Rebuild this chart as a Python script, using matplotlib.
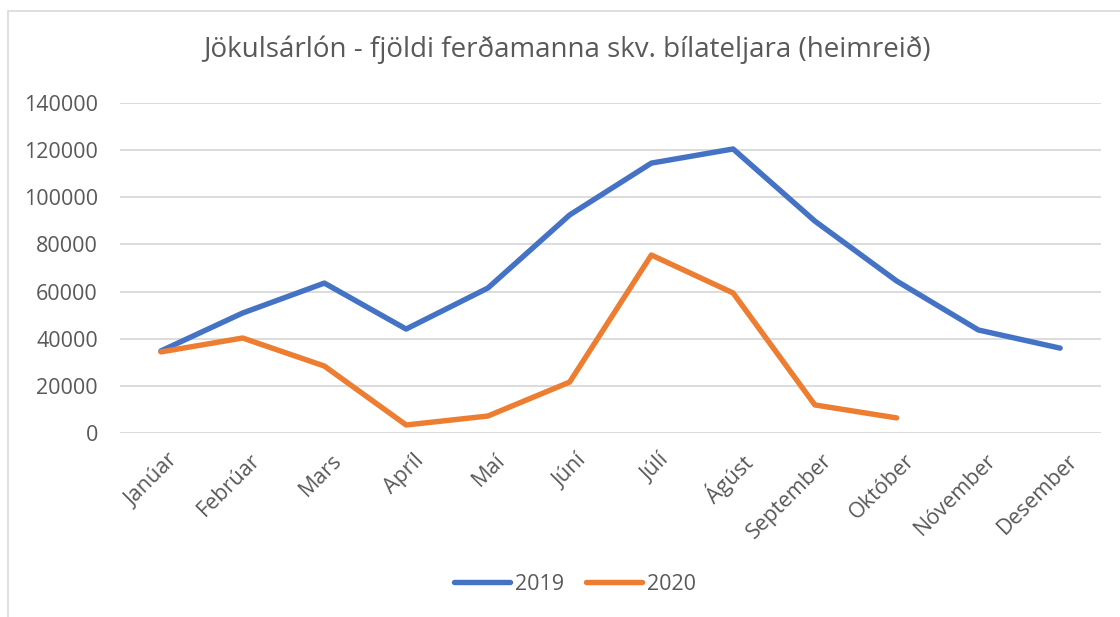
import matplotlib
matplotlib.use("Agg")
from matplotlib import pyplot as plt
from matplotlib.patches import Rectangle
from matplotlib.transforms import ScaledTranslation

# months and visitor counts
months = ["Janúar", "Febrúar", "Mars", "Apríl", "Maí", "Júní", "Júlí",
          "Ágúst", "September", "Október", "Nóvember", "Desember"]
visitors_2019 = [34800, 50900, 63600, 44100, 61500, 92500, 114500,
                 120500, 89900, 64500, 43700, 36000]
visitors_2020 = [34400, 40300, 28400, 3400, 7200, 21600, 75500,
                 59400, 11900, 6400]
yticks = [0, 20000, 40000, 60000, 80000, 100000, 120000, 140000]

plt.rcParams['font.family'] = ['Open Sans', 'DejaVu Sans']
grey = '#595959'

fig = plt.figure(figsize=(11.2, 6.17), dpi=100)
ax = fig.add_axes([120 / 1120, 1 - 433 / 617, 981 / 1120, 330 / 617])

# light chart border like the excel frame
fig.patches.append(Rectangle((8 / 1120, -0.1), 1.2, 1 - 11 / 617 + 0.1,
                             transform=fig.transFigure, fill=False,
                             edgecolor='#d9d9d9', linewidth=1.2))

x = list(range(len(months)))
ax.plot(x, visitors_2019, color='#4472C4', lw=3.9, label='2019',
        solid_capstyle='round', solid_joinstyle='round')
ax.plot(x[:len(visitors_2020)], visitors_2020, color='#ED7D31', lw=3.9,
        label='2020', solid_capstyle='round', solid_joinstyle='round')

ax.set_xlim(-0.5, len(months) - 0.5)
ax.set_ylim(0, 140000)
ax.set_yticks(yticks)
ax.set_yticklabels([str(v) for v in yticks])
ax.set_xticks(x)
ax.set_xticklabels(months, rotation=45, ha='right', rotation_mode='anchor')
ax.tick_params(axis='both', length=0, labelsize=15.5, colors=grey)
ax.tick_params(axis='y', pad=16)
ax.tick_params(axis='x', pad=12)
# nudge month labels a little to the right
shift = ScaledTranslation(7 / 100, 0, fig.dpi_scale_trans)
for lbl in ax.get_xticklabels():
    lbl.set_transform(lbl.get_transform() + shift)
ax.grid(axis='y', color='#d9d9d9', lw=1.3)
ax.set_axisbelow(True)
for s in ax.spines.values():
    s.set_visible(False)

fig.text(567 / 1120, 1 - 50 / 617,
         "Jökulsárlón - fjöldi ferðamanna skv. bílateljara (heimreið)",
         ha='center', va='center', fontsize=20, color=grey)

leg = fig.legend(loc='center', bbox_to_anchor=(575 / 1120, 1 - 584 / 617),
                 ncol=2, frameon=False, fontsize=15.5, handlelength=2.6,
                 handletextpad=0.25, columnspacing=1.0)
for t in leg.get_texts():
    t.set_color(grey)

plt.savefig('out.png', dpi=100)
